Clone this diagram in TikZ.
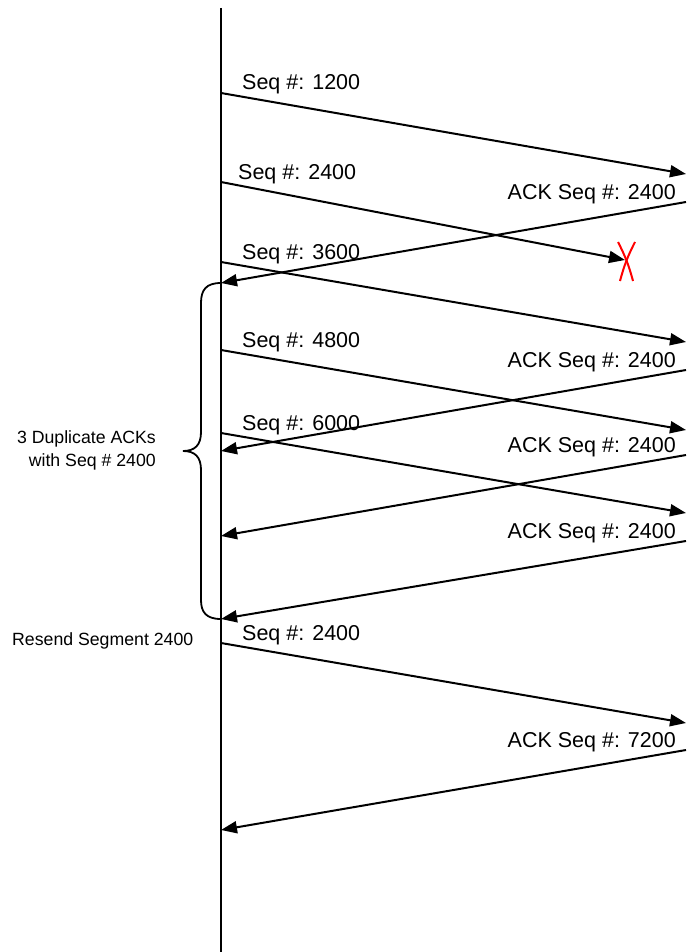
\documentclass[tikz,border=0pt]{standalone}
\usepackage{fontspec}
\setmainfont{Liberation Sans}
\usepackage{tikz}
\usetikzlibrary{arrows.meta,positioning,calc}
\definecolor{SeqInk}{HTML}{000000}
\definecolor{LossRed}{HTML}{FF0000}

\begin{document}
\begin{tikzpicture}[x=1pt,y=-1pt,
  msg/.style={draw=SeqInk, line width=2pt, -{Triangle[length=16pt,width=12pt]}},
  seqlbl/.style={anchor=base west, inner sep=0pt, font=\fontsize{21.5}{26}\selectfont},
  acklbl/.style={anchor=base east, inner sep=0pt, font=\fontsize{21.5}{26}\selectfont},
  note/.style={inner sep=0pt, align=right, font=\fontsize{17.7}{23}\selectfont}]
  \useasboundingbox (0,0) rectangle (686,952);
  % sender time line
  \coordinate (hostTop) at (221,8);
  \coordinate (hostBot) at (221,952);
  \draw[SeqInk, line width=2pt] (hostTop) -- (hostBot);
  % segments
  \foreach \n/\ya/\yb/\num in {%
      1/93/174/1200,
      3/262/342/3600,
      4/350/430/4800,
      5/433/513/6000,
      6/643/723/2400}{
    \coordinate (s\n) at (221,\ya);
    \coordinate (r\n) at (686,\yb);
    \draw[msg] (s\n) -- (r\n);
    \node[seqlbl] (seq\n) at (242,\ya-3) {Seq \#: \num};
  }
  % lost segment
  \coordinate (s2) at (221,182);
  \coordinate (drop) at (625,260);
  \draw[msg] (s2) -- (drop);
  \node[seqlbl] (seq2) at (238,179) {Seq \#: 2400};
  \draw[LossRed, line width=2pt] ($(drop)+(-7,-18)$) to[bend left=6] ($(drop)+(8,21)$);
  \draw[LossRed, line width=2pt] ($(drop)+(10,-18)$) to[bend right=6] ($(drop)+(-5,21)$);
  % acks
  \foreach \n/\ya/\yb/\num in {%
      1/202/283/2400,
      2/370/451/2400,
      3/455/536/2400,
      4/541/619/2400,
      5/750/830/7200}{
    \coordinate (ra\n) at (686,\ya);
    \coordinate (sa\n) at (221,\yb);
    \draw[msg] (ra\n) -- (sa\n);
    \node[acklbl] (ack\n) at (676,\ya-3) {ACK Seq \#: \num};
  }
  % brace over the duplicate acks
  \coordinate (btip) at (183,451);
  \draw[SeqInk, line width=1.8pt] (sa1) .. controls (206,283) and (201,290) .. (201,303)
    -- (201,432) .. controls (201,445) and (195,451) .. (btip)
    .. controls (195,451) and (201,457) .. (201,470)
    -- (201,600) .. controls (201,612) and (206,619) .. (sa4);
  \node[note, anchor=east] (dupnote) at (156,450) {3 Duplicate ACKs\\with Seq \# 2400};
  \node[note, anchor=base west] (resend) at (12,645) {Resend Segment 2400};
\end{tikzpicture}
\end{document}
